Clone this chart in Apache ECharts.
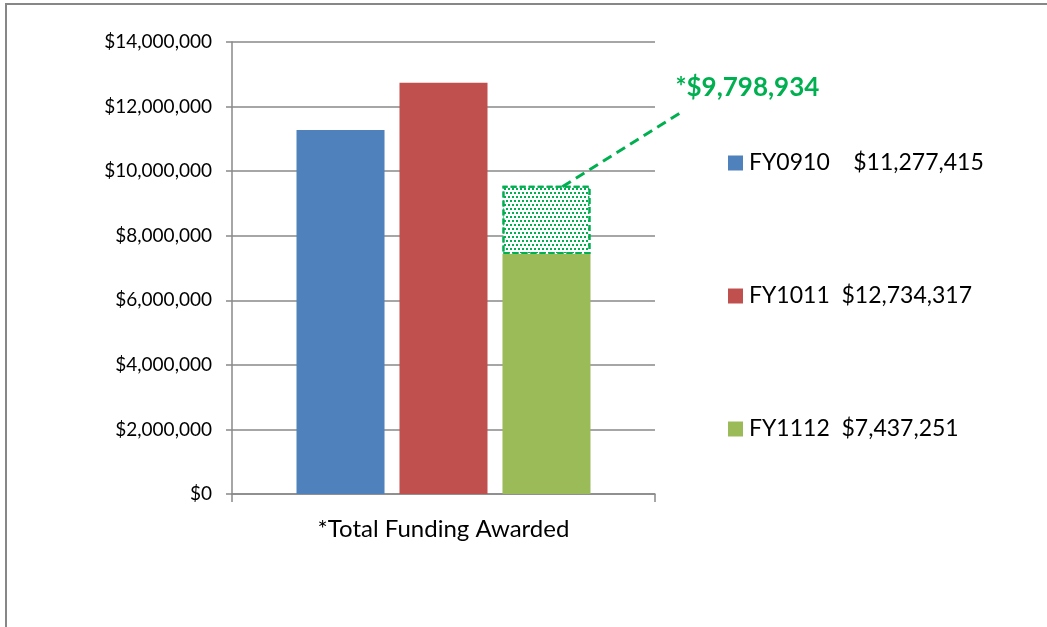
<!DOCTYPE html>
<html>
<head>
<meta charset="utf-8">
<script src="https://cdn.jsdelivr.net/npm/echarts@6/dist/echarts.min.js"></script>
<style>
html,body{margin:0;padding:0;background:#fff;}
#c{width:1047px;height:627px;}
</style>
</head>
<body>
<div id="c"></div>
<script>
// ---- data ----
const categories = ['*Total Funding Awarded'];
const seriesNames = ['FY0910    $11,277,415', 'FY1011  $12,734,317', 'FY1112  $7,437,251'];
const fy0910 = [11277415];
const fy1011 = [12734317];
const fy1112 = [7437251];
const projectedExtra = [2110000];
const projectedLabel = '*$9,798,934';
const yMin = 0, yMax = 14000000, yInterval = 2000000;

const fmt = v => '$' + Math.round(v).toLocaleString('en-US');
const FONT = 'Lato';
const GRAY = '#898989';
const GREEN = '#00B050';

const chart = echarts.init(document.getElementById('c'));
chart.setOption({
  animation: false,
  backgroundColor: '#fff',
  textStyle: { fontFamily: FONT },
  grid: { left: 232, right: 392, top: 42, bottom: 133 },
  legend: {
    orient: 'vertical',
    left: 728,
    top: 151,
    padding: 0,
    itemWidth: 15,
    itemHeight: 15,
    itemGap: 109,
    icon: 'rect',
    data: seriesNames,
    textStyle: { fontFamily: FONT, fontSize: 23, lineHeight: 24, color: '#000', padding: [0, 0, 0, 1] }
  },
  xAxis: {
    type: 'category',
    data: categories,
    axisLine: { lineStyle: { color: GRAY, width: 1.5 } },
    axisTick: { show: true, length: 8, lineStyle: { color: GRAY, width: 1.5 } },
    axisLabel: { fontFamily: FONT, fontSize: 24, color: '#000', margin: 23 }
  },
  yAxis: {
    type: 'value',
    min: yMin, max: yMax, interval: yInterval,
    axisLine: { show: true, lineStyle: { color: GRAY, width: 1.5 } },
    axisTick: { show: true, length: 6, lineStyle: { color: GRAY, width: 1.5 } },
    splitLine: { lineStyle: { color: GRAY, width: 1.5 } },
    axisLabel: { fontFamily: FONT, fontSize: 19, color: '#000', margin: 20, formatter: fmt }
  },
  series: [
    { name: seriesNames[0], type: 'bar', data: fy0910, barGap: '17%', barCategoryGap: '30.5%',
      itemStyle: { color: '#4F81BD' } },
    { name: seriesNames[1], type: 'bar', data: fy1011, itemStyle: { color: '#C0504D' } },
    { name: seriesNames[2], type: 'bar', data: fy1112, stack: 'fy12', itemStyle: { color: '#9BBB59' } },
    { name: 'projected', type: 'bar', data: projectedExtra, stack: 'fy12', z: 3,
      itemStyle: {
        color: '#ffffff',
        borderColor: GREEN, borderWidth: 2, borderType: [6, 3],
        decal: {
          symbol: 'rect', symbolSize: 1, color: GREEN, backgroundColor: 'rgba(0,0,0,0)',
          dashArrayX: [[2, 2], [0, 2, 2, 0]], dashArrayY: [2, 2]
        }
      }
    }
  ]
});

// annotation (border, leader line + label) anchored on the projected bar's layout
function boxGraphic() {
  return { type: 'rect', silent: true, z: 0,
    shape: { x: 6, y: 4, width: 1200, height: 800 },
    style: { fill: 'none', stroke: '#878787', lineWidth: 2 } };
}
const graphics = [boxGraphic()];
try {
  const lay = chart.getModel().getSeriesByIndex(3).getData().getItemLayout(0);
  const top = Math.min(lay.y, lay.y + lay.height);
  const left = Math.min(lay.x, lay.x + lay.width);
  const w = Math.abs(lay.width);
  graphics.push(
    { type: 'line', silent: true, z: 10,
      shape: { x1: left + w * 0.68, y1: top + 1, x2: left + w + 90, y2: top - 73 },
      style: { stroke: GREEN, lineWidth: 3, lineDash: [10, 6] } },
    { type: 'text', silent: true, z: 10,
      x: left + w + 85, y: top - 98,
      style: { text: projectedLabel, fill: GREEN, font: 'bold 26px ' + FONT,
               verticalAlign: 'middle' } }
  );
} catch (e) { console.error(e); }
chart.setOption({ graphic: graphics });
</script>
</body>
</html>
